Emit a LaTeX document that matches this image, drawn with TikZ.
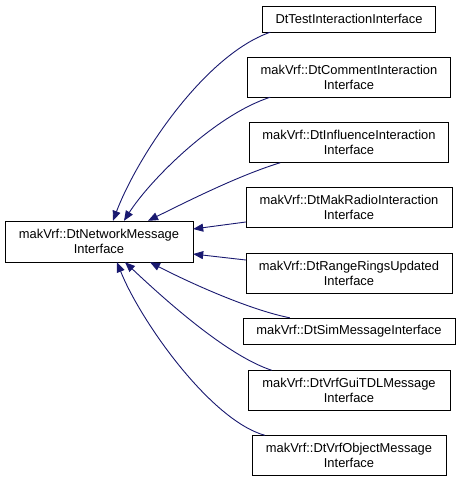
\documentclass[tikz,border=0pt]{standalone}
\usepackage{fontspec}
\setmainfont{Liberation Sans}
\usetikzlibrary{arrows.meta, positioning, calc}
\definecolor{edgeblue}{RGB}{25, 25, 112}
\tikzset{
    classnode/.style = {draw, rectangle, fill=white, inner sep=0pt, align=center, 
      node distance=0pt, font=\fontsize{12.9}{14.8}\selectfont},
    inherit/.style = {edgeblue, line width=0.9pt, {Triangle[length=10pt, width=8pt]}-},
    every text node part/.style={align=center}
}

\begin{document}
\begin{tikzpicture}[x=1pt, y=-1pt]
\useasboundingbox (0,0) rectangle (461,481);

\node[classnode, name=base, minimum width=188pt, minimum height=41pt] at (99,241.5) 
	{makVrf::DtNetworkMessage\\Interface};

\node[classnode, name=test, minimum width=173pt, minimum height=26pt] at (349,19) 
	{DtTestInteractionInterface};
\node[classnode, name=comment, below of = test, yshift=-58pt, 
	minimum width=203pt, minimum height=40pt] {makVrf::DtCommentInteraction\\Interface};
\node[classnode, name=influence, below of = comment, yshift=-65.5pt, 
	minimum width=199pt, minimum height=40pt] {makVrf::DtInfluenceInteraction\\Interface};
\node[classnode, name=makradio, below of = influence, yshift=-64.5pt, 
	minimum width=206pt, minimum height=40pt] {makVrf::DtMakRadioInteraction\\Interface};
\node[classnode, name=rangerings, below of = makradio, yshift=-66pt, 
	minimum width=206pt, minimum height=40pt] {makVrf::DtRangeRingsUpdated\\Interface};
\node[classnode, name=sim, below of = rangerings, yshift=-58pt, 
	minimum width=212pt, minimum height=26pt] {makVrf::DtSimMessageInterface};
\node[classnode, name=vrfgui, below of = sim, yshift=-59.5pt, 
	minimum width=202pt, minimum height=40pt] {makVrf::DtVrfGuiTDLMessage\\Interface};
\node[classnode, name=vrfobject, below of = vrfgui, yshift=-65pt, 
	minimum width=194pt, minimum height=40pt] {makVrf::DtVrfObjectMessage\\Interface};

% inheritance edges, arrow at the base class
\draw[inherit] ([xshift=14pt]base.north) .. controls (138,155) and (205,55) .. ([xshift=8pt]test.south west);
\draw[inherit] ([xshift=25pt]base.north) .. controls (150,180) and (215,115) .. ([xshift=23pt]comment.south west);
\draw[inherit] ([xshift=49pt]base.north) .. controls (190,200) and (240,175) .. ([xshift=31pt]influence.south west);
\draw[inherit] ([yshift=12.5pt]base.east) -- ([yshift=-15pt]makradio.west);
\draw[inherit] ([yshift=-12.5pt]base.east) -- ([yshift=13pt]rangerings.west);
\draw[inherit] ([xshift=51pt]base.south) .. controls (190,283) and (250,310) .. ([xshift=47pt]sim.north west);
\draw[inherit] ([xshift=26pt]base.south) .. controls (160,295) and (225,355) .. ([xshift=24pt]vrfgui.north west);
\draw[inherit] ([xshift=18pt]base.south) .. controls (140,320) and (210,420) .. ([xshift=13pt]vrfobject.north west);
\end{tikzpicture}
\end{document}
